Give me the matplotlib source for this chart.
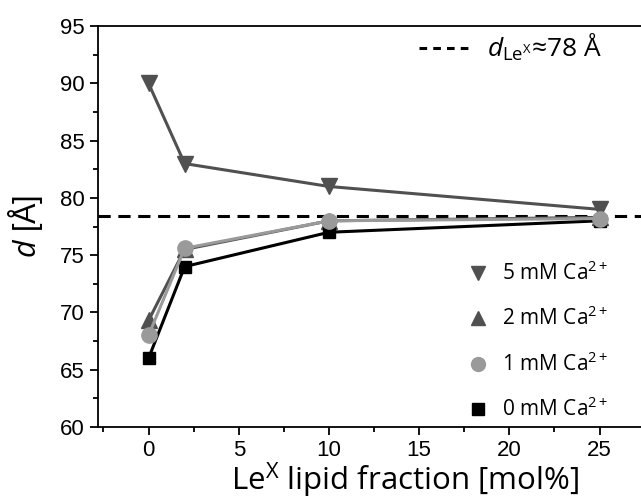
import numpy as np
import matplotlib
matplotlib.use('Agg')
from matplotlib import pyplot as plt
from matplotlib.ticker import MultipleLocator

plt.rcParams['font.family'] = ['Liberation Sans', 'DejaVu Sans']
plt.rcParams['mathtext.fontset'] = 'custom'
plt.rcParams['mathtext.rm'] = 'Open Sans'
plt.rcParams['mathtext.it'] = 'Open Sans:italic'

# Le^X lipid fraction [mol%]
frac = [0, 2, 10, 25]
d_5mM = [90.0, 83.0, 81.0, 79.0]
d_2mM = [69.3, 75.5, 78.0, 78.3]
d_1mM = [68.0, 75.6, 78.0, 78.2]
d_0mM = [66.0, 74.0, 77.0, 78.0]
d_LeX = 78.45

fig = plt.figure(figsize=(6.41, 5.04), dpi=100)
ax = fig.add_axes([0.153, 0.153, 0.847, 0.795])

dark = '#505050'
light = '#9a9a9a'
dashes = (0, (4, 2.5))
ax.axhline(d_LeX, color='black', ls=dashes, lw=2.2, zorder=1)
ax.plot(frac, d_5mM, color=dark, lw=2.2, marker='v', ms=11, zorder=3)
ax.plot(frac, d_2mM, color=dark, lw=2.2, marker='^', ms=11, zorder=2)
ax.plot(frac, d_0mM, color='black', lw=2.2, marker='s', ms=9, zorder=3)
ax.plot(frac, d_1mM, color=light, lw=2.2, marker='o', ms=11, zorder=4)

ax.set_xlim(-2.8, 27.3)
ax.set_ylim(60, 95)
ax.xaxis.set_major_locator(MultipleLocator(5))
ax.xaxis.set_minor_locator(MultipleLocator(2.5))
ax.yaxis.set_major_locator(MultipleLocator(5))
ax.yaxis.set_minor_locator(MultipleLocator(2.5))
ax.tick_params(which='major', direction='out', length=6, width=1.3, labelsize=16)
ax.tick_params(which='minor', direction='out', length=3.5, width=1.3)
ax.spines['right'].set_visible(False)
for s in ['left', 'bottom', 'top']:
    ax.spines[s].set_linewidth(1.3)

ax.set_xlabel(r'Le$^{\mathrm{X}}$ lipid fraction [mol%]', fontsize=22.5,
              family='Open Sans')
ax.xaxis.set_label_coords(0.565, -0.085)
ax.set_ylabel(r'$d$ [Å]', fontsize=22, labelpad=11)

# marker-only legend
labels = ['5 mM Ca$^{2+}$', '2 mM Ca$^{2+}$', '1 mM Ca$^{2+}$', '0 mM Ca$^{2+}$']
handles = [
    plt.Line2D([], [], ls='', marker='v', color=dark, ms=10),
    plt.Line2D([], [], ls='', marker='^', color=dark, ms=10),
    plt.Line2D([], [], ls='', marker='o', color=light, ms=10),
    plt.Line2D([], [], ls='', marker='s', color='black', ms=8),
]
leg = ax.legend(handles, labels, loc='lower right', bbox_to_anchor=(0.975, -0.033),
                frameon=False, prop={'family': 'Open Sans', 'size': 15},
                labelspacing=1.05, handletextpad=0.4, handlelength=1.5)
ax.add_artist(leg)

dash = plt.Line2D([], [], color='black', ls=(0, (2.5, 2)), lw=2.2)
ax.legend([dash], [r'$d_{\mathrm{Le}^{\mathrm{X}}}$≈78 Å'], loc='upper right',
          bbox_to_anchor=(0.972, 1.045), frameon=False,
          prop={'family': 'Open Sans', 'size': 19},
          handlelength=1.9, handletextpad=0.7)

fig.savefig('out.png', dpi=100)
